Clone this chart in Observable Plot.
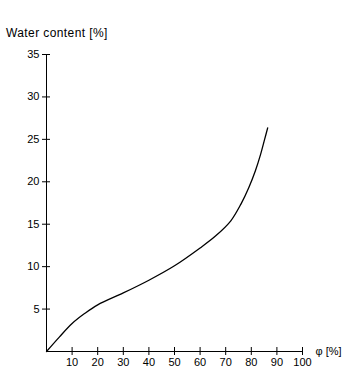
<!DOCTYPE html>
<html>
<head>
<meta charset="utf-8">
<script src="https://cdn.jsdelivr.net/npm/d3@7"></script>
<script src="https://cdn.jsdelivr.net/npm/@observablehq/plot@0.6"></script>
<style>
  html, body { margin: 0; padding: 0; background: #fff; }
  #title { font: 12px "Liberation Sans", Arial, sans-serif; letter-spacing: 0.4px; color: #000;
           padding: 26px 0 0 6px; height: 14px; line-height: 14px; }
  svg { display: block; }
</style>
</head>
<body>
<div id="title">Water content [%]</div>
<div id="chart"></div>
<script>
// Relative humidity φ [%]
const phi   = [0, 5, 10, 15, 20, 30, 40, 50, 60, 66, 72, 76, 79, 81.6, 83.6, 85.2, 86.4];
// Water content [%]
const water = [0, 1.7, 3.3, 4.5, 5.5, 6.9, 8.4, 10.1, 12.2, 13.6, 15.4, 17.4, 19.3, 21.3, 23.2, 25.0, 26.35];
const xTicks = [10, 20, 30, 40, 50, 60, 70, 80, 90, 100];
const yTicks = [5, 10, 15, 20, 25, 30, 35];
const xAxisTitle = "φ [%]";

const data = phi.map((p, i) => ({phi: p, water: water[i]}));

const chart = Plot.plot({
  width: 351,
  height: 349,
  marginLeft: 46,
  marginRight: 49,
  marginTop: 14,
  marginBottom: 38,
  style: {fontFamily: '"Liberation Sans", Arial, sans-serif', fontSize: "11px", background: "#fff", color: "#000"},
  x: {domain: [0, 100]},
  y: {domain: [0, 35]},
  marks: [
    Plot.ruleY([0], {stroke: "#000", strokeWidth: 1}),
    Plot.ruleX([0], {stroke: "#000", strokeWidth: 1}),
    Plot.ruleX(xTicks, {x: d => d, y1: 0, y2: 0, insetTop: -4, insetBottom: -4, stroke: "#000"}),
    Plot.ruleY(yTicks, {y: d => d, x1: 0, x2: 0, insetLeft: -4, insetRight: -4, stroke: "#000"}),
    Plot.axisX({ticks: xTicks, tickSize: 0, tickPadding: 7, label: null, fill: "#000"}),
    Plot.axisY({ticks: yTicks, tickSize: 0, tickPadding: 7, label: null, fill: "#000"}),
    Plot.text([xAxisTitle], {frameAnchor: "bottom-right", dx: 13, text: d => d, textAnchor: "start", lineAnchor: "middle", fill: "#000"}),
    Plot.line(data, {x: "phi", y: "water", curve: "catmull-rom", stroke: "#000", strokeWidth: 1.3})
  ]
});
document.getElementById("chart").appendChild(chart);
</script>
</body>
</html>
